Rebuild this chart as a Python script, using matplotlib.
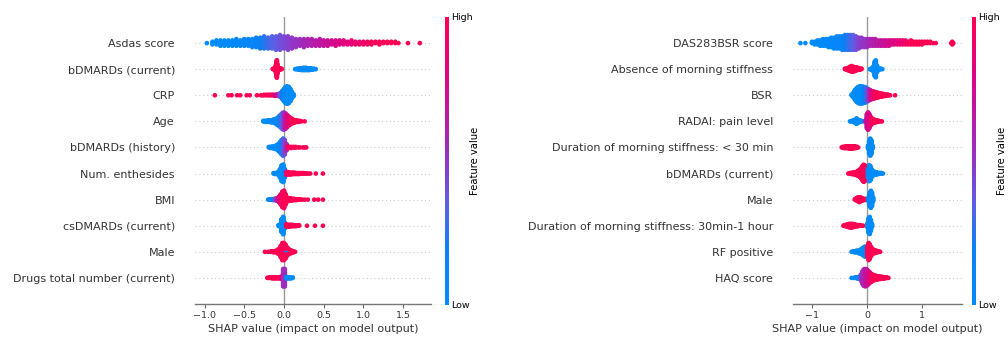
import numpy as np
import matplotlib
matplotlib.use("Agg")
import matplotlib.pyplot as plt
from matplotlib.colors import LinearSegmentedColormap

# each entry: (SHAP value, number of patients, scaled feature value 0..1)

# ---- left model ----
asdas = [(-0.97, 1, 0.0), (-0.90, 3, 0.0), (-0.85, 4, 0.0), (-0.80, 5, 0.0), (-0.75, 5, 0.0),
         (-0.70, 5, 0.02), (-0.65, 5, 0.02), (-0.60, 6, 0.05), (-0.55, 5, 0.05), (-0.50, 6, 0.08),
         (-0.45, 6, 0.1), (-0.40, 7, 0.12), (-0.35, 8, 0.15), (-0.30, 9, 0.2), (-0.25, 10, 0.25),
         (-0.20, 9, 0.3), (-0.15, 10, 0.33), (-0.10, 11, 0.36), (-0.05, 12, 0.4), (0.0, 10, 0.43),
         (0.05, 11, 0.46), (0.10, 9, 0.5), (0.15, 7, 0.52), (0.20, 6, 0.55), (0.25, 7, 0.58),
         (0.30, 6, 0.6), (0.35, 6, 0.62), (0.40, 5, 0.65), (0.45, 6, 0.67), (0.50, 5, 0.7),
         (0.55, 5, 0.72), (0.60, 4, 0.75), (0.65, 5, 0.77), (0.70, 4, 0.8), (0.75, 4, 0.82),
         (0.80, 3, 0.84), (0.85, 4, 0.86), (0.90, 3, 0.88), (0.95, 3, 0.9), (1.00, 3, 0.92),
         (1.05, 3, 0.94), (1.10, 3, 0.96), (1.15, 2, 0.98), (1.20, 3, 1.0), (1.25, 2, 1.0),
         (1.30, 2, 1.0), (1.35, 2, 1.0), (1.40, 2, 1.0), (1.44, 1, 1.0), (1.56, 1, 1.0), (1.71, 1, 1.0)]
bdmards_cur_l = [(-0.14, 2, 1), (-0.12, 4, 1), (-0.11, 8, 1), (-0.10, 20, 1), (-0.09, 40, 1),
                 (-0.08, 20, 1), (-0.07, 8, 1), (-0.05, 4, 1), (-0.03, 2, 1),
                 (0.14, 1, 0), (0.16, 2, 0), (0.18, 3, 0), (0.20, 4, 0), (0.22, 5, 0), (0.24, 6, 0),
                 (0.26, 6, 0), (0.28, 6, 0), (0.30, 5, 0), (0.32, 5, 0), (0.34, 4, 0), (0.36, 3, 0),
                 (0.38, 2, 0), (0.40, 1, 0)]
crp = [(-0.87, 1, 1), (-0.70, 1, 1), (-0.66, 1, 1), (-0.59, 1, 1), (-0.55, 1, 1), (-0.47, 1, 1),
       (-0.43, 1, 1), (-0.34, 1, 1), (-0.29, 1, 1), (-0.27, 1, 1), (-0.25, 2, 1), (-0.22, 2, 1),
       (-0.20, 2, 1), (-0.18, 2, 1), (-0.16, 2, 0.95), (-0.14, 2, 0.9), (-0.12, 3, 0.85),
       (-0.10, 3, 0.8), (-0.08, 4, 0.7), (-0.06, 6, 0.5), (-0.04, 10, 0.35), (-0.02, 18, 0.2),
       (0.0, 26, 0.1), (0.02, 34, 0.05), (0.04, 36, 0.0), (0.06, 34, 0.0), (0.08, 26, 0.0),
       (0.10, 14, 0.0), (0.12, 5, 0.0)]
age = [(-0.26, 2, 0), (-0.24, 3, 0), (-0.22, 3, 0), (-0.20, 4, 0), (-0.18, 4, 0), (-0.16, 5, 0),
       (-0.14, 6, 0.05), (-0.12, 8, 0.05), (-0.10, 11, 0.1), (-0.08, 15, 0.1), (-0.06, 20, 0.15),
       (-0.04, 26, 0.25), (-0.02, 32, 0.35), (0.0, 34, 0.5), (0.02, 30, 0.65), (0.04, 24, 0.8),
       (0.06, 18, 0.85), (0.08, 14, 0.9), (0.10, 10, 0.95), (0.12, 7, 1), (0.14, 5, 1),
       (0.16, 4, 1), (0.18, 3, 1), (0.20, 2, 1), (0.22, 1, 1), (0.26, 1, 1)]
bdmards_hist = [(-0.19, 2, 0), (-0.17, 3, 0), (-0.15, 4, 0), (-0.13, 5, 0), (-0.11, 7, 0),
                (-0.09, 10, 0), (-0.07, 15, 0.05), (-0.05, 22, 0.1), (-0.03, 30, 0.2),
                (-0.01, 36, 0.3), (0.01, 30, 0.45), (0.03, 14, 0.6), (0.05, 4, 0.9), (0.07, 3, 1),
                (0.09, 3, 1), (0.11, 2, 1), (0.13, 2, 1), (0.15, 2, 1), (0.18, 1, 1), (0.20, 1, 1),
                (0.24, 1, 1), (0.26, 1, 1), (0.28, 1, 1)]
enthesides = [(-0.13, 2, 0), (-0.11, 3, 0), (-0.09, 4, 0), (-0.07, 8, 0), (-0.05, 20, 0),
              (-0.03, 36, 0), (-0.01, 40, 0), (0.01, 20, 0.1), (0.03, 8, 0.8), (0.05, 6, 1),
              (0.07, 5, 1), (0.09, 5, 1), (0.11, 4, 1), (0.13, 4, 1), (0.15, 3, 1), (0.17, 3, 1),
              (0.19, 3, 1), (0.21, 2, 1), (0.23, 2, 1), (0.25, 2, 1), (0.27, 1, 1), (0.29, 1, 1),
              (0.31, 1, 1), (0.33, 1, 1), (0.40, 1, 1), (0.49, 1, 1)]
bmi = [(-0.20, 1, 0), (-0.18, 2, 0), (-0.16, 2, 0.1), (-0.14, 3, 0.2), (-0.12, 4, 0.3),
       (-0.10, 5, 0.5), (-0.08, 8, 0.7), (-0.06, 14, 0.85), (-0.04, 24, 0.9), (-0.02, 36, 0.95),
       (0.0, 40, 0.95), (0.02, 24, 1), (0.04, 10, 1), (0.06, 7, 1), (0.08, 6, 1), (0.10, 5, 1),
       (0.12, 4, 1), (0.14, 3, 1), (0.16, 3, 1), (0.18, 2, 1), (0.20, 2, 1), (0.23, 1, 1),
       (0.26, 1, 1), (0.30, 1, 1), (0.38, 1, 1), (0.43, 1, 1), (0.49, 1, 1)]
csdmards = [(-0.07, 2, 0), (-0.05, 6, 0), (-0.03, 30, 0), (-0.01, 40, 0), (0.01, 14, 0.1),
            (0.03, 6, 1), (0.05, 5, 1), (0.07, 5, 1), (0.09, 4, 1), (0.11, 4, 1), (0.13, 3, 1),
            (0.15, 3, 1), (0.17, 2, 1), (0.19, 2, 1), (0.29, 1, 1), (0.39, 1, 1), (0.49, 1, 1)]
male_l = [(-0.18, 1, 0), (-0.12, 1, 0), (-0.08, 2, 0), (-0.04, 4, 0), (-0.02, 6, 0), (0.0, 10, 0),
          (0.02, 12, 0), (0.04, 10, 0), (0.06, 8, 0), (0.08, 6, 0), (0.10, 3, 0), (0.12, 1, 0),
          (-0.24, 1, 1), (-0.20, 1, 1), (-0.16, 2, 1), (-0.13, 3, 1), (-0.10, 4, 1), (-0.08, 6, 1),
          (-0.06, 10, 1), (-0.04, 18, 1), (-0.02, 26, 1), (0.0, 22, 1), (0.02, 14, 1),
          (0.04, 6, 1), (0.06, 2, 1), (0.08, 1, 1), (0.10, 2, 1), (0.12, 2, 1), (0.14, 1, 1)]
drugs_total = [(-0.21, 1, 1), (-0.19, 2, 1), (-0.17, 2, 1), (-0.15, 3, 1), (-0.13, 3, 1),
               (-0.11, 3, 1), (-0.09, 3, 1), (-0.07, 3, 1), (-0.05, 4, 1), (-0.03, 6, 0.9),
               (-0.01, 40, 0.55), (0.01, 40, 0.55),
               (0.03, 4, 0), (0.05, 3, 0), (0.07, 3, 0), (0.09, 3, 0), (0.11, 2, 0)]

left_names = ["Asdas score", "bDMARDs (current)", "CRP", "Age", "bDMARDs (history)",
              "Num. enthesides", "BMI", "csDMARDs (current)", "Male",
              "Drugs total number (current)"]
left_rows = [asdas, bdmards_cur_l, crp, age, bdmards_hist, enthesides, bmi, csdmards,
             male_l, drugs_total]
left_ticks = [-1.0, -0.5, 0.0, 0.5, 1.0, 1.5]

# ---- right model ----
das28 = [(-1.21, 1, 0), (-1.12, 1, 0), (-1.00, 2, 0), (-0.95, 3, 0), (-0.90, 4, 0),
         (-0.85, 5, 0), (-0.80, 6, 0), (-0.75, 6, 0), (-0.70, 7, 0), (-0.65, 8, 0.05),
         (-0.60, 9, 0.05), (-0.55, 10, 0.1), (-0.50, 10, 0.1), (-0.45, 11, 0.15),
         (-0.40, 12, 0.2), (-0.35, 12, 0.25), (-0.30, 12, 0.3), (-0.25, 12, 0.35),
         (-0.20, 11, 0.4), (-0.15, 9, 0.45), (-0.10, 8, 0.5), (-0.05, 7, 0.5), (0.0, 7, 0.55),
         (0.05, 6, 0.6), (0.10, 6, 0.6), (0.15, 6, 0.65), (0.20, 5, 0.65), (0.25, 5, 0.7),
         (0.30, 5, 0.7), (0.35, 5, 0.75), (0.40, 5, 0.75), (0.45, 4, 0.8), (0.50, 4, 0.8),
         (0.55, 4, 0.85), (0.60, 4, 0.85), (0.65, 4, 0.9), (0.70, 4, 0.9), (0.75, 3, 0.95),
         (0.80, 4, 1), (0.85, 3, 1), (0.90, 3, 1), (0.95, 3, 1), (1.00, 3, 1), (1.05, 2, 1),
         (1.10, 2, 1), (1.15, 2, 1), (1.20, 1, 1), (1.25, 1, 1), (1.53, 1, 1), (1.55, 2, 1),
         (1.57, 1, 1)]
no_stiffness = [(-0.40, 2, 1), (-0.37, 3, 1), (-0.34, 5, 1), (-0.31, 8, 1), (-0.28, 10, 1),
                (-0.25, 9, 1), (-0.22, 7, 1), (-0.19, 6, 1), (-0.16, 4, 1), (-0.13, 3, 1),
                (-0.10, 2, 1),
                (0.05, 1, 0), (0.08, 3, 0), (0.10, 5, 0), (0.12, 10, 0), (0.14, 24, 0),
                (0.16, 28, 0), (0.18, 12, 0), (0.20, 5, 0), (0.22, 3, 0), (0.25, 2, 0), (0.28, 1, 0)]
bsr = [(-0.28, 2, 0), (-0.26, 5, 0), (-0.24, 10, 0), (-0.22, 16, 0), (-0.20, 20, 0),
       (-0.18, 24, 0), (-0.16, 26, 0), (-0.14, 28, 0), (-0.12, 28, 0), (-0.10, 28, 0),
       (-0.08, 28, 0.05), (-0.06, 26, 0.1), (-0.04, 26, 0.15), (-0.02, 24, 0.2), (0.0, 22, 0.3),
       (0.02, 20, 0.45), (0.04, 18, 0.55), (0.06, 16, 0.65), (0.08, 14, 0.75), (0.10, 13, 0.8),
       (0.12, 12, 0.85), (0.14, 11, 0.9), (0.16, 10, 0.95), (0.18, 9, 1), (0.20, 8, 1),
       (0.22, 7, 1), (0.24, 6, 1), (0.26, 6, 1), (0.28, 5, 1), (0.30, 4, 1), (0.32, 3, 1),
       (0.34, 3, 1), (0.36, 2, 1), (0.38, 2, 1), (0.40, 1, 1), (0.42, 1, 1), (0.51, 1, 1)]
radai_pain = [(-0.31, 1, 0), (-0.28, 2, 0), (-0.25, 4, 0), (-0.22, 7, 0), (-0.19, 12, 0),
              (-0.16, 7, 0), (-0.13, 4, 0), (-0.10, 2, 0), (-0.07, 1, 0),
              (-0.02, 6, 0.7), (0.0, 30, 0.7), (0.02, 36, 0.75), (0.04, 30, 0.8), (0.06, 20, 0.85),
              (0.08, 14, 0.9), (0.10, 10, 0.95), (0.12, 8, 1), (0.14, 6, 1), (0.16, 5, 1),
              (0.18, 4, 1), (0.20, 3, 1), (0.22, 2, 1), (0.25, 1, 1), (0.27, 1, 1)]
stiff_lt30 = [(-0.46, 1, 1), (-0.44, 2, 1), (-0.42, 3, 1), (-0.40, 3, 1), (-0.38, 4, 1),
              (-0.36, 4, 1), (-0.34, 4, 1), (-0.32, 5, 1), (-0.30, 5, 1), (-0.28, 5, 1),
              (-0.26, 5, 1), (-0.24, 4, 1), (-0.22, 4, 1), (-0.20, 3, 1), (-0.18, 2, 1),
              (-0.16, 1, 1),
              (0.02, 6, 0), (0.04, 24, 0), (0.06, 30, 0), (0.08, 24, 0), (0.10, 6, 0)]
bdmards_cur_r = [(-0.34, 1, 1), (-0.31, 2, 1), (-0.28, 3, 1), (-0.25, 4, 1), (-0.22, 5, 1),
                 (-0.19, 7, 1), (-0.16, 10, 1), (-0.13, 14, 1), (-0.10, 20, 1), (-0.08, 26, 1),
                 (-0.06, 30, 1), (-0.04, 28, 1), (-0.02, 20, 1),
                 (0.02, 16, 0), (0.04, 28, 0), (0.06, 26, 0), (0.08, 16, 0), (0.10, 10, 0),
                 (0.12, 7, 0), (0.14, 6, 0), (0.16, 5, 0), (0.18, 4, 0), (0.20, 3, 0),
                 (0.23, 2, 0), (0.26, 2, 0), (0.29, 1, 0)]
male_r = [(-0.22, 2, 1), (-0.20, 4, 1), (-0.18, 6, 1), (-0.16, 8, 1), (-0.14, 9, 1),
          (-0.12, 8, 1), (-0.10, 6, 1), (-0.08, 4, 1), (-0.06, 3, 1), (-0.04, 2, 1),
          (-0.02, 2, 1), (0.0, 1, 1),
          (0.03, 8, 0), (0.05, 24, 0), (0.07, 30, 0), (0.09, 24, 0), (0.11, 8, 0)]
stiff_30_60 = [(-0.43, 1, 1), (-0.41, 2, 1), (-0.39, 3, 1), (-0.37, 4, 1), (-0.35, 5, 1),
               (-0.33, 6, 1), (-0.31, 7, 1), (-0.29, 7, 1), (-0.27, 7, 1), (-0.25, 6, 1),
               (-0.23, 5, 1), (-0.21, 4, 1), (-0.19, 3, 1), (-0.17, 3, 1), (-0.15, 2, 1),
               (-0.13, 2, 1), (-0.11, 1, 1), (-0.09, 1, 1), (-0.07, 1, 1),
               (0.01, 8, 0), (0.03, 26, 0), (0.05, 30, 0), (0.07, 20, 0), (0.09, 6, 0)]
rf_positive = [(-0.28, 1, 0), (-0.25, 2, 0), (-0.22, 3, 0), (-0.19, 4, 0), (-0.16, 5, 0),
               (-0.13, 7, 0), (-0.10, 10, 0), (-0.07, 14, 0), (-0.04, 18, 0), (-0.02, 14, 0),
               (0.01, 20, 1), (0.03, 30, 1), (0.05, 26, 1), (0.07, 18, 1), (0.09, 12, 1),
               (0.11, 8, 1), (0.13, 6, 1), (0.15, 5, 1), (0.17, 4, 1), (0.19, 3, 1),
               (0.21, 2, 1), (0.24, 1, 1)]
haq = [(-0.28, 1, 0), (-0.24, 1, 0), (-0.21, 2, 0), (-0.18, 3, 0.05), (-0.15, 4, 0.1),
       (-0.12, 8, 0.3), (-0.10, 14, 0.5), (-0.08, 24, 0.55), (-0.06, 30, 0.6), (-0.04, 32, 0.6),
       (-0.02, 32, 0.65), (0.0, 30, 0.7), (0.02, 26, 0.75), (0.04, 22, 0.8), (0.06, 18, 0.85),
       (0.08, 15, 0.9), (0.10, 12, 0.95), (0.12, 10, 1), (0.14, 9, 1), (0.16, 8, 1),
       (0.18, 7, 1), (0.20, 6, 1), (0.22, 6, 1), (0.24, 5, 1), (0.26, 4, 1), (0.28, 4, 1),
       (0.30, 3, 1), (0.32, 3, 1), (0.34, 2, 1), (0.36, 2, 1), (0.39, 1, 1)]

right_names = ["DAS283BSR score", "Absence of morning stiffness", "BSR", "RADAI: pain level",
               "Duration of morning stiffness: < 30 min", "bDMARDs (current)", "Male",
               "Duration of morning stiffness: 30min-1 hour", "RF positive", "HAQ score"]
right_rows = [das28, no_stiffness, bsr, radai_pain, stiff_lt30, bdmards_cur_r, male_r,
              stiff_30_60, rf_positive, haq]
right_ticks = [-1, 0, 1]

red_blue = LinearSegmentedColormap.from_list(
    "red_blue", [(0.0, "#008bfb"), (0.2, "#0d80f4"), (0.35, "#5d5fe3"), (0.5, "#9236c8"),
                 (0.65, "#b81aa6"), (0.8, "#dc0583"), (1.0, "#ff0052")])

AXIS = "#333333"


def swarm(row, row_height=0.4, nbins=100):
    # beeswarm offsets: points sharing a bin are stacked alternately up and down
    counts = [r[1] for r in row]
    shap = np.repeat([r[0] for r in row], counts)
    vals = np.repeat([r[2] for r in row], counts)
    quant = np.round(nbins * (shap - shap.min()) / (shap.max() - shap.min() + 1e-8))
    order = np.argsort(quant, kind="stable")
    ys = np.zeros(len(shap))
    layer, last = 0, None
    for i in order:
        if quant[i] != last:
            layer = 0
        ys[i] = np.ceil(layer / 2) * ((layer % 2) * 2 - 1)
        layer += 1
        last = quant[i]
    ys *= 0.9 * (row_height / np.max(ys + 1))
    return shap, ys, vals


def summary(ax, cax, names, rows, xlim, ticks):
    n = len(names)
    ax.axvline(0, color="#999999", lw=1.0, zorder=-1)
    for i, row in enumerate(rows):
        pos = n - 1 - i
        ax.axhline(pos, color="#cccccc", lw=0.8, dashes=(1, 2.5), zorder=-1)
        x, ys, v = swarm(row)
        ax.scatter(x, pos + ys, c=v, cmap=red_blue, vmin=0, vmax=1, s=11,
                   linewidths=0, zorder=3)
    ax.set_xlim(*xlim)
    ax.set_ylim(-1, n)
    ax.set_yticks(range(n))
    ax.set_yticklabels(names[::-1], fontsize=8, color=AXIS)
    ax.tick_params(axis="y", length=0, pad=14.4)
    ax.set_xticks(ticks)
    ax.tick_params(axis="x", labelsize=6.8, labelcolor=AXIS, color="#666666",
                   length=3, width=0.8, pad=2)
    for s in ["left", "right", "top"]:
        ax.spines[s].set_visible(False)
    ax.spines["bottom"].set_color("#777777")
    ax.spines["bottom"].set_linewidth(1.0)
    ax.set_xlabel("SHAP value (impact on model output)", fontsize=8, color=AXIS, labelpad=3)

    sm = plt.cm.ScalarMappable(cmap=red_blue, norm=plt.Normalize(0, 1))
    cb = plt.colorbar(sm, cax=cax, ticks=[0, 1])
    cb.set_ticklabels(["Low", "High"])
    cb.ax.tick_params(labelsize=6.8, length=0, pad=1.5)
    cb.set_label("Feature value", size=7.2, labelpad=-2)
    cb.outline.set_visible(False)


fig = plt.figure(figsize=(10.08, 3.37), dpi=100)
W, H = 1008, 337

ax1 = fig.add_axes([195 / W, 33 / H, 236 / W, 287 / H])
cax1 = fig.add_axes([445 / W, 32 / H, 4 / W, 288 / H])
summary(ax1, cax1, left_names, left_rows, (-1.12, 1.85), left_ticks)

ax2 = fig.add_axes([793 / W, 33 / H, 169 / W, 287 / H])
cax2 = fig.add_axes([972 / W, 32 / H, 4 / W, 288 / H])
summary(ax2, cax2, right_names, right_rows, (-1.345, 1.727), right_ticks)

fig.savefig("out.png", dpi=100, facecolor="white")
